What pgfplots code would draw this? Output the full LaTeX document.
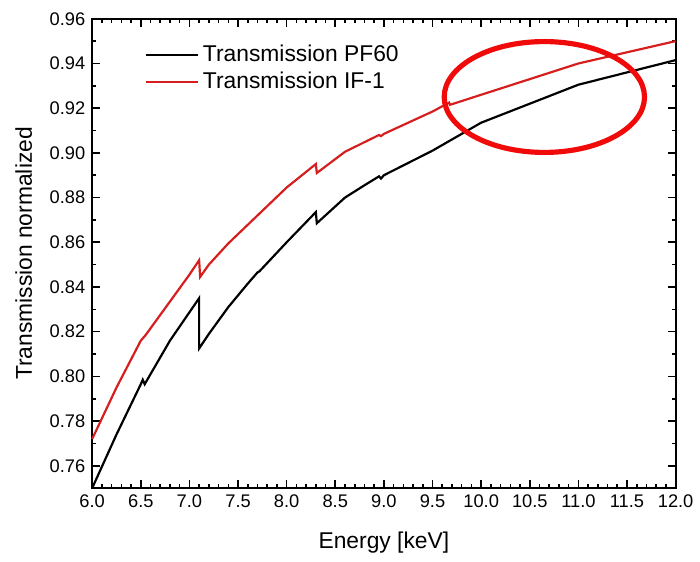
\documentclass[border=0pt]{standalone}
\usepackage{fontspec}
\setmainfont{Liberation Sans}
\usepackage{pgfplots}
\pgfplotsset{compat=1.18}

\definecolor{pfblack}{RGB}{0,0,0}
\definecolor{ifred}{RGB}{215,30,30}
\definecolor{ringred}{RGB}{240,10,10}

\pgfplotstableread{
x y
6.00 0.7500
6.25 0.7740
6.50 0.7965
6.52 0.7985
6.54 0.7965
6.80 0.8160
7.10 0.8350
7.10 0.8125
7.20 0.8190
7.40 0.8310
7.60 0.8415
7.70 0.8465
7.72 0.8470
8.00 0.8600
8.20 0.8690
8.30 0.8735
8.31 0.8685
8.60 0.8800
8.80 0.8855
8.95 0.8895
8.97 0.8885
9.00 0.8900
9.50 0.9010
10.00 0.9135
10.50 0.9220
11.00 0.9305
11.50 0.9360
12.00 0.9415
}\pfsixty

\pgfplotstableread{
x y
6.00 0.7720
6.25 0.7950
6.50 0.8160
6.55 0.8185
6.80 0.8335
7.00 0.8455
7.10 0.8520
7.11 0.8445
7.20 0.8500
7.40 0.8595
7.70 0.8720
8.00 0.8845
8.30 0.8950
8.31 0.8910
8.60 0.9005
8.95 0.9080
8.97 0.9075
9.00 0.9085
9.50 0.9185
9.67 0.9225
9.68 0.9215
10.00 0.9260
10.50 0.9330
11.00 0.9400
11.50 0.9450
12.00 0.9500
}\ifone

\begin{document}
\begin{tikzpicture}
\begin{axis}[
  scale only axis,
  width=294pt, height=236.5pt,
  xmin=6, xmax=12, ymin=0.75, ymax=0.96,
  xtick={6,6.5,...,12}, minor x tick num=4,
  ytick={0.76,0.78,...,0.96}, minor y tick num=1,
  tick align=inside,
  major tick length=4pt, minor tick length=2pt,
  tick style={line width=0.8pt, black},
  axis line style={line width=1pt},
  /pgf/number format/assume math mode=true,
  xticklabel style={/pgf/number format/.cd, fixed, fixed zerofill, precision=1},
  yticklabel style={/pgf/number format/.cd, fixed, fixed zerofill, precision=2},
  ticklabel style={font=\fontsize{9.2}{10}\selectfont},
  xlabel={Energy [keV]},
  ylabel={Transmission normalized},
  label style={font=\fontsize{11.5}{13}\selectfont},
  xlabel shift=5pt,
  ylabel shift=2pt,
  legend style={draw=none, fill=none, at={(0.08,0.962)}, anchor=north west,
    font=\fontsize{11.5}{13}\selectfont, row sep=0pt},
  legend cell align=left,
  legend image code/.code={\draw[#1, line width=1.1pt] (0pt,0pt) -- (26pt,0pt);},
  clip=false,
]
\addplot[pfblack, line width=1.1pt] table {\pfsixty};
\addlegendentry{Transmission PF60}
\addplot[ifred, line width=1.1pt] table {\ifone};
\addlegendentry{Transmission IF-1}
\draw[ringred, line width=2.6pt] (axis cs:10.65,0.925) ellipse [x radius=1.03, y radius=0.0248];
\path (rel axis cs:-0.158,-0.156) rectangle (rel axis cs:1.032,1.040);
\end{axis}
\end{tikzpicture}
\end{document}
